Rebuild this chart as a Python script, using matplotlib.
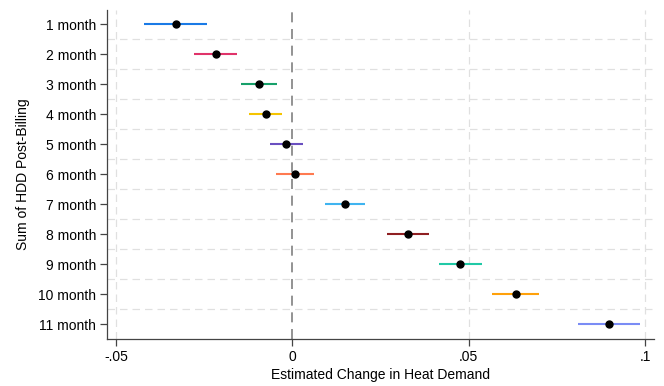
import matplotlib
matplotlib.use('Agg')
import matplotlib.pyplot as plt

# coefficient estimates with 95% CI
labels = ['1 month', '2 month', '3 month', '4 month', '5 month', '6 month',
          '7 month', '8 month', '9 month', '10 month', '11 month']
coef = [-0.0330, -0.0218, -0.0096, -0.0075, -0.0018, 0.0007,
        0.0148, 0.0328, 0.0476, 0.0633, 0.0898]
ci_lo = [-0.0420, -0.0280, -0.0147, -0.0122, -0.0064, -0.0048,
         0.0093, 0.0269, 0.0416, 0.0567, 0.0810]
ci_hi = [-0.0241, -0.0156, -0.0044, -0.0029, 0.0029, 0.0061,
         0.0206, 0.0388, 0.0537, 0.0698, 0.0986]
colors = ['#1a7ae6', '#e0336a', '#17a06a', '#f5c400', '#6a4fc0', '#ff7a50',
          '#3fb4f0', '#8f1f22', '#20c9a6', '#ffa10a', '#7a8cf5']
xticks = [-0.05, 0, 0.05, 0.1]
xticklabels = ['-.05', '0', '.05', '.1']

plt.rcParams['font.family'] = ['Liberation Sans', 'DejaVu Sans']

fig = plt.figure(figsize=(6.64, 3.86), dpi=100)
ax = fig.add_axes([0.1616, 0.1218, 0.8234, 0.852])

ypos = list(range(1, len(labels) + 1))

# grid: dashed light gray between rows and at x ticks
for y in ypos[:-1]:
    ax.axhline(y + 0.5, color='#e0e0e0', lw=0.9, ls=(0, (6, 4)), zorder=0)
for x in [-0.05, 0.05, 0.1]:
    ax.axvline(x, color='#e0e0e0', lw=0.9, ls=(0, (6, 4)), zorder=0)
ax.axvline(0, color='#808080', lw=1.2, ls=(0, (6, 4)), zorder=1)

for y, c, lo, hi, col in zip(ypos, coef, ci_lo, ci_hi, colors):
    ax.hlines(y, lo, hi, color=col, lw=1.5, zorder=2)
    ax.plot(c, y, 'o', color='black', ms=5, zorder=3)

ax.set_ylim(11.5, 0.52)
ax.set_xlim(-0.0525, 0.1025)
ax.set_yticks(ypos)
ax.set_yticklabels(labels, fontsize=10)
ax.set_xticks(xticks)
ax.set_xticklabels(xticklabels, fontsize=10)
ax.tick_params(axis='both', length=5, width=0.9, color='#444444', pad=3)

for s in ['top', 'right']:
    ax.spines[s].set_visible(False)
for s in ['left', 'bottom']:
    ax.spines[s].set_color('#444444')
    ax.spines[s].set_linewidth(0.9)

ax.set_xlabel('Estimated Change in Heat Demand', fontsize=10, labelpad=3)
ax.set_ylabel('Sum of HDD Post-Billing', fontsize=10, labelpad=6)

fig.savefig('out.png', dpi=100)
